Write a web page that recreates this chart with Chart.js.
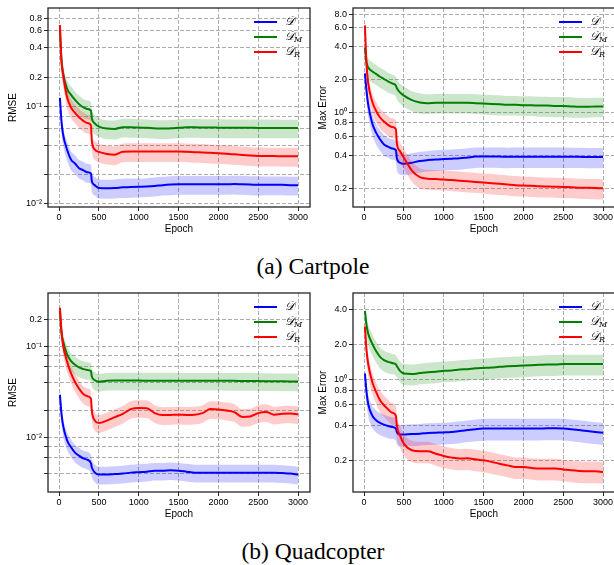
<!DOCTYPE html>
<html>
<head>
<meta charset="utf-8">
<script src="https://cdn.jsdelivr.net/npm/chart.js@4.4.0/dist/chart.umd.min.js"></script>
<style>
html, body { margin: 0; padding: 0; background: #fff; overflow: hidden; width: 614px; height: 565px; }
.panel { position: absolute; width: 312px; height: 236px; }
.caption { position: absolute; left: 0; width: 626px; text-align: center; font-family: "Liberation Serif", "Times New Roman", serif; font-size: 23.5px; line-height: 23.5px; color: #000; }
</style>
</head>
<body>
<div class="panel" style="left:0;top:0"><canvas id="cartRmse" width="312" height="236"></canvas></div>
<div class="panel" style="left:305px;top:0"><canvas id="cartMax" width="312" height="236"></canvas></div>
<div class="caption" style="top:255px">(a) Cartpole</div>
<div class="panel" style="left:0;top:285px"><canvas id="quadRmse" width="312" height="236"></canvas></div>
<div class="panel" style="left:305px;top:285px"><canvas id="quadMax" width="312" height="236"></canvas></div>
<div class="caption" style="top:540px">(b) Quadcopter</div>
<script>
const epochs = [10, 30, 50, 100, 150, 200, 250, 300, 350, 400,
    410, 450, 500, 600, 700, 800, 900, 1000, 1100, 1200,
    1300, 1400, 1500, 1600, 1700, 1800, 1900, 2000, 2100, 2200,
    2300, 2400, 2500, 2600, 2700, 2800, 2900, 3000];

// Cartpole - RMSE
const cartRmseD = [0.123, 0.070, 0.0515, 0.036, 0.0285, 0.026, 0.0233, 0.0223, 0.0212, 0.0206,
    0.0172, 0.0155, 0.0146, 0.0145, 0.0146, 0.0148, 0.0149, 0.015, 0.0151, 0.0153,
    0.0156, 0.0158, 0.0159, 0.0159, 0.0159, 0.0159, 0.0159, 0.0159, 0.0159, 0.016,
    0.0159, 0.0158, 0.0157, 0.0157, 0.0157, 0.0157, 0.0156, 0.0156];
const cartRmseDStd = [0.027, 0.016, 0.011, 0.0079, 0.0063, 0.0057, 0.0051, 0.0049, 0.0047, 0.0045,
    0.0038, 0.0034, 0.0032, 0.0032, 0.0032, 0.0033, 0.0033, 0.0033, 0.0033, 0.0034,
    0.0034, 0.0035, 0.0035, 0.0035, 0.0035, 0.0035, 0.0035, 0.0035, 0.0035, 0.0035,
    0.0035, 0.0035, 0.0035, 0.0034, 0.0034, 0.0034, 0.0034, 0.0034];
const cartRmseM = [0.62, 0.30, 0.22, 0.152, 0.132, 0.117, 0.106, 0.0985, 0.0946, 0.091,
    0.0765, 0.0669, 0.0623, 0.0594, 0.0590, 0.0615, 0.0612, 0.061, 0.0605, 0.0598,
    0.0594, 0.0598, 0.0605, 0.0612, 0.0612, 0.061, 0.061, 0.0608, 0.0606, 0.0606,
    0.0605, 0.0605, 0.0604, 0.0604, 0.0604, 0.0603, 0.0603, 0.0603];
const cartRmseMStd = [0.13, 0.065, 0.048, 0.033, 0.029, 0.026, 0.023, 0.022, 0.021, 0.020,
    0.017, 0.015, 0.0135, 0.013, 0.013, 0.0133, 0.0133, 0.0132, 0.0132, 0.013,
    0.013, 0.013, 0.0132, 0.0133, 0.0133, 0.0133, 0.0133, 0.0132, 0.0132, 0.0132,
    0.0132, 0.0132, 0.0132, 0.0131, 0.0131, 0.0131, 0.0131, 0.0131];
const cartRmseR = [0.69, 0.29, 0.213, 0.125, 0.098, 0.086, 0.0777, 0.0718, 0.0679, 0.0643,
    0.045, 0.0361, 0.0342, 0.0326, 0.0321, 0.0343, 0.0345, 0.0345, 0.0345, 0.0345,
    0.0345, 0.0345, 0.0345, 0.0343, 0.034, 0.0338, 0.0335, 0.0332, 0.0328, 0.0323,
    0.0318, 0.0314, 0.0311, 0.031, 0.031, 0.0309, 0.0309, 0.0309];
const cartRmseRStd = [0.15, 0.064, 0.047, 0.028, 0.022, 0.019, 0.017, 0.016, 0.015, 0.014,
    0.0099, 0.0079, 0.0075, 0.0072, 0.0071, 0.0075, 0.0076, 0.0076, 0.0076, 0.0076,
    0.0076, 0.0076, 0.0076, 0.0075, 0.0075, 0.0074, 0.0074, 0.0073, 0.0072, 0.0071,
    0.007, 0.0069, 0.0068, 0.0068, 0.0068, 0.0068, 0.0068, 0.0068];

// Cartpole - Max Error
const cartMaxD = [2.28, 1.58, 1.19, 0.80, 0.648, 0.562, 0.505, 0.481, 0.464, 0.445,
    0.38, 0.342, 0.335, 0.343, 0.355, 0.362, 0.367, 0.37, 0.373, 0.376,
    0.383, 0.39, 0.391, 0.391, 0.39, 0.388, 0.389, 0.389, 0.389, 0.389,
    0.389, 0.389, 0.389, 0.388, 0.388, 0.387, 0.387, 0.386];
const cartMaxDStd = [0.48, 0.34, 0.26, 0.17, 0.14, 0.12, 0.11, 0.10, 0.10, 0.095,
    0.083, 0.075, 0.073, 0.075, 0.077, 0.078, 0.079, 0.08, 0.08, 0.081,
    0.082, 0.083, 0.083, 0.083, 0.083, 0.083, 0.083, 0.083, 0.083, 0.083,
    0.083, 0.083, 0.083, 0.082, 0.082, 0.082, 0.082, 0.082];
const cartMaxM = [3.9, 2.88, 2.59, 2.38, 2.25, 2.12, 2.02, 1.92, 1.84, 1.75,
    1.67, 1.52, 1.42, 1.29, 1.23, 1.21, 1.22, 1.22, 1.22, 1.22,
    1.22, 1.21, 1.20, 1.19, 1.18, 1.17, 1.17, 1.16, 1.16, 1.15,
    1.15, 1.14, 1.14, 1.13, 1.12, 1.12, 1.13, 1.13];
const cartMaxMStd = [0.8, 0.6, 0.55, 0.5, 0.47, 0.44, 0.42, 0.40, 0.38, 0.36,
    0.35, 0.32, 0.30, 0.27, 0.26, 0.25, 0.25, 0.25, 0.25, 0.25,
    0.25, 0.25, 0.25, 0.25, 0.25, 0.24, 0.24, 0.24, 0.24, 0.24,
    0.24, 0.24, 0.24, 0.24, 0.23, 0.23, 0.23, 0.23];
const cartMaxR = [6.3, 2.78, 1.88, 1.27, 1.03, 0.893, 0.82, 0.764, 0.73, 0.696,
    0.524, 0.438, 0.38, 0.29, 0.252, 0.244, 0.242, 0.24, 0.237, 0.234,
    0.231, 0.228, 0.225, 0.222, 0.219, 0.216, 0.213, 0.211, 0.21, 0.208,
    0.207, 0.206, 0.205, 0.204, 0.202, 0.201, 0.200, 0.199];
const cartMaxRStd = [1.3, 0.6, 0.4, 0.27, 0.22, 0.19, 0.17, 0.16, 0.15, 0.145,
    0.11, 0.092, 0.08, 0.061, 0.053, 0.051, 0.051, 0.05, 0.05, 0.049,
    0.049, 0.048, 0.047, 0.047, 0.046, 0.045, 0.045, 0.044, 0.044, 0.044,
    0.043, 0.043, 0.043, 0.043, 0.042, 0.042, 0.042, 0.042];

// Quadcopter - RMSE
const quadRmseD = [0.0295, 0.0182, 0.0135, 0.0093, 0.0078, 0.0068, 0.0063, 0.0059, 0.0057, 0.0052,
    0.0047, 0.0041, 0.0039, 0.0039, 0.00395, 0.004, 0.0041, 0.00415, 0.0042, 0.0043,
    0.0043, 0.00435, 0.0043, 0.0042, 0.0041, 0.0041, 0.0041, 0.0041, 0.0041, 0.0041,
    0.0041, 0.0041, 0.0041, 0.0041, 0.0041, 0.00405, 0.004, 0.0039];
const quadRmseDStd = [0.0065, 0.004, 0.003, 0.002, 0.0017, 0.0015, 0.0014, 0.0013, 0.00125, 0.00115,
    0.001, 0.0009, 0.00086, 0.00086, 0.00087, 0.00088, 0.0009, 0.00091, 0.00092, 0.00094,
    0.00094, 0.00095, 0.00094, 0.00092, 0.0009, 0.0009, 0.0009, 0.0009, 0.0009, 0.0009,
    0.0009, 0.0009, 0.0009, 0.0009, 0.0009, 0.00089, 0.00088, 0.00086];
const quadRmseM = [0.25, 0.14, 0.114, 0.082, 0.069, 0.063, 0.059, 0.0567, 0.0552, 0.0537,
    0.047, 0.0425, 0.041, 0.042, 0.0422, 0.0422, 0.0422, 0.0422, 0.0421, 0.0421,
    0.0421, 0.0421, 0.042, 0.042, 0.042, 0.042, 0.042, 0.042, 0.0419, 0.0419,
    0.0418, 0.0418, 0.0417, 0.0416, 0.0415, 0.0414, 0.0413, 0.0412];
const quadRmseMStd = [0.055, 0.031, 0.025, 0.018, 0.015, 0.014, 0.013, 0.0125, 0.012, 0.012,
    0.0103, 0.0094, 0.009, 0.0092, 0.0093, 0.0093, 0.0093, 0.0093, 0.0093, 0.0093,
    0.0093, 0.0093, 0.0092, 0.0092, 0.0092, 0.0092, 0.0092, 0.0092, 0.0092, 0.0092,
    0.0092, 0.0092, 0.0092, 0.0092, 0.0091, 0.0091, 0.0091, 0.0091];
const quadRmseR = [0.267, 0.147, 0.104, 0.068, 0.0506, 0.0408, 0.0344, 0.0303, 0.0285, 0.0267,
    0.0198, 0.0153, 0.0144, 0.0153, 0.0167, 0.0182, 0.0205, 0.0211, 0.021, 0.0185,
    0.0176, 0.0177, 0.0178, 0.0177, 0.0178, 0.0185, 0.0205, 0.0203, 0.0198, 0.019,
    0.0168, 0.017, 0.0185, 0.019, 0.0178, 0.0182, 0.0183, 0.018];
const quadRmseRStd = [0.059, 0.032, 0.023, 0.015, 0.011, 0.009, 0.0076, 0.0067, 0.0063, 0.0059,
    0.0044, 0.0034, 0.0032, 0.0034, 0.0037, 0.004, 0.0045, 0.0046, 0.0046, 0.0041,
    0.0039, 0.0039, 0.0039, 0.0039, 0.0039, 0.0041, 0.0045, 0.0045, 0.0044, 0.0042,
    0.0037, 0.0037, 0.0041, 0.0042, 0.0039, 0.004, 0.004, 0.004];

// Quadcopter - Max Error
const quadMaxD = [1.12, 0.777, 0.616, 0.488, 0.442, 0.419, 0.405, 0.394, 0.387, 0.374,
    0.35, 0.332, 0.333, 0.336, 0.338, 0.343, 0.345, 0.347, 0.35, 0.356,
    0.363, 0.37, 0.374, 0.375, 0.375, 0.375, 0.375, 0.375, 0.375, 0.375,
    0.376, 0.376, 0.375, 0.37, 0.363, 0.356, 0.35, 0.345];
const quadMaxDStd = [0.24, 0.17, 0.13, 0.105, 0.095, 0.09, 0.087, 0.085, 0.083, 0.08,
    0.075, 0.071, 0.071, 0.072, 0.072, 0.073, 0.074, 0.074, 0.075, 0.076,
    0.077, 0.079, 0.08, 0.08, 0.08, 0.08, 0.08, 0.08, 0.08, 0.08,
    0.08, 0.08, 0.08, 0.079, 0.078, 0.076, 0.075, 0.074];
const quadMaxM = [3.88, 2.94, 2.49, 2.04, 1.75, 1.56, 1.46, 1.41, 1.38, 1.34,
    1.30, 1.18, 1.12, 1.11, 1.13, 1.15, 1.16, 1.18, 1.19, 1.21,
    1.22, 1.24, 1.25, 1.26, 1.28, 1.29, 1.30, 1.31, 1.32, 1.33,
    1.34, 1.34, 1.35, 1.35, 1.35, 1.35, 1.35, 1.35];
const quadMaxMStd = [0.8, 0.6, 0.51, 0.42, 0.36, 0.32, 0.3, 0.29, 0.28, 0.27,
    0.26, 0.24, 0.23, 0.23, 0.23, 0.235, 0.24, 0.24, 0.245, 0.25,
    0.25, 0.255, 0.26, 0.26, 0.265, 0.265, 0.27, 0.27, 0.27, 0.27,
    0.275, 0.275, 0.275, 0.275, 0.275, 0.275, 0.275, 0.275];
const quadMaxR = [2.84, 1.78, 1.37, 0.96, 0.777, 0.658, 0.595, 0.55, 0.514, 0.482,
    0.40, 0.327, 0.277, 0.243, 0.238, 0.238, 0.227, 0.217, 0.21, 0.206,
    0.207, 0.203, 0.199, 0.193, 0.186, 0.18, 0.174, 0.174, 0.171, 0.169,
    0.169, 0.169, 0.166, 0.163, 0.161, 0.16, 0.16, 0.158];
const quadMaxRStd = [0.6, 0.37, 0.29, 0.2, 0.16, 0.14, 0.125, 0.115, 0.108, 0.1,
    0.084, 0.069, 0.058, 0.051, 0.05, 0.05, 0.048, 0.046, 0.044, 0.043,
    0.043, 0.043, 0.042, 0.041, 0.039, 0.038, 0.037, 0.037, 0.036, 0.036,
    0.036, 0.036, 0.035, 0.034, 0.034, 0.034, 0.034, 0.033];

// ticks
const xTicks = [0, 500, 1000, 1500, 2000, 2500, 3000];
const cartRmseTicks = [0.01, 0.02, 0.04, 0.06, 0.08, 0.1, 0.2, 0.4, 0.6, 0.8];
const cartRmseLabels = ['10⁻²', '', '', '', '', '10⁻¹', '0.2', '0.4', '0.6', '0.8'];
const cartMaxTicks = [0.2, 0.4, 0.6, 0.8, 1, 2, 4, 6, 8];
const cartMaxLabels = ['0.2', '0.4', '0.6', '0.8', '10⁰', '2.0', '4.0', '6.0', '8.0'];
const quadRmseTicks = [0.004, 0.006, 0.008, 0.01, 0.02, 0.04, 0.06, 0.08, 0.1, 0.2];
const quadRmseLabels = ['', '', '', '10⁻²', '', '', '', '', '10⁻¹', '0.2'];
const quadMaxTicks = [0.2, 0.4, 0.6, 0.8, 1, 2, 4];
const quadMaxLabels = ['0.2', '0.4', '0.6', '0.8', '10⁰', '2.0', '4.0'];

const legendNames = [['𝒟', ''], ['𝒟', 'M'], ['𝒟', 'R']];
const lineColors = ['#0000ff', '#008000', '#ff0000'];
const bandColors = ['rgba(0,0,255,0.2)', 'rgba(0,128,0,0.2)', 'rgba(255,0,0,0.2)'];

const sansFont = '"Liberation Sans", Arial, sans-serif';

function buildDatasets(means, stds) {
    const layers = [];
    means.forEach((m, k) => {
        const lo = epochs.map((e, i) => ({ x: e, y: m[i] - stds[k][i] }));
        const hi = epochs.map((e, i) => ({ x: e, y: m[i] + stds[k][i] }));
        const mid = epochs.map((e, i) => ({ x: e, y: m[i] }));
        layers.push({ data: lo, borderWidth: 0, borderColor: 'rgba(0,0,0,0)', pointRadius: 0, fill: false, cubicInterpolationMode: 'monotone' });
        layers.push({ data: hi, borderWidth: 0, borderColor: 'rgba(0,0,0,0)', pointRadius: 0, fill: '+1', backgroundColor: bandColors[k], cubicInterpolationMode: 'monotone' });
        layers.push({ data: mid, borderColor: lineColors[k], borderWidth: 2, pointRadius: 0, fill: false, cubicInterpolationMode: 'monotone' });
    });
    // chart.js paints the first dataset last, so flip to get D under D_M under D_R
    return layers.reverse();
}

const framePlugin = {
    id: 'frameAndLegend',
    afterDatasetsDraw(chart) {
        const { ctx, chartArea: a } = chart;
        ctx.save();
        ctx.strokeStyle = '#262626';
        ctx.lineWidth = 1.3;
        ctx.strokeRect(a.left, a.top, a.right - a.left, a.bottom - a.top);
        ctx.restore();
    },
    afterDraw(chart) {
        const { ctx, chartArea: a } = chart;
        ctx.save();
        legendNames.forEach((name, k) => {
            const y = a.top + 14 + k * 15;
            ctx.strokeStyle = lineColors[k];
            ctx.lineWidth = 2;
            ctx.beginPath();
            ctx.moveTo(a.right - 56, y);
            ctx.lineTo(a.right - 33, y);
            ctx.stroke();
            ctx.fillStyle = '#000';
            ctx.textBaseline = 'middle';
            ctx.font = 'italic 12px "DejaVu Serif", serif';
            ctx.fillText(name[0], a.right - 25, y);
            if (name[1]) {
                const w = ctx.measureText(name[0]).width;
                ctx.font = 'italic 8px "DejaVu Serif", serif';
                ctx.fillText(name[1], a.right - 25 + w - 1, y + 3);
            }
        });
        ctx.restore();
    }
};

function makeChart(id, yTitle, titlePad, yMin, yMax, yTicks, yLabels, means, stds) {
    const gridColor = 'rgba(160,160,160,0.85)';
    const config = {
        type: 'line',
        data: { datasets: buildDatasets(means, stds) },
        options: {
            responsive: false,
            animation: false,
            layout: { padding: { top: 8, right: 2, left: 0, bottom: 0 } },
            plugins: { legend: { display: false }, tooltip: { enabled: false } },
            scales: {
                x: {
                    type: 'linear',
                    min: -139.5,
                    max: 3149.5,
                    afterBuildTicks: s => { s.ticks = xTicks.map(v => ({ value: v })); },
                    afterFit: s => { s.height = 29; },
                    grid: { color: gridColor, lineWidth: 1, drawTicks: true, tickLength: 4, tickColor: '#262626', tickBorderDash: [] },
                    border: { display: false, dash: [4, 2] },
                    ticks: {
                        color: '#000', font: { family: sansFont, size: 9 }, padding: 1, maxRotation: 0, autoSkip: false,
                        callback: (value) => String(value)
                    },
                    title: { display: true, text: 'Epoch', color: '#000', font: { family: sansFont, size: 10 }, padding: { top: 0, bottom: 1 } }
                },
                y: {
                    type: 'logarithmic',
                    min: yMin,
                    max: yMax,
                    afterBuildTicks: s => { s.ticks = yTicks.map(v => ({ value: v })); },
                    afterFit: s => { s.width = 48; },
                    grid: { color: gridColor, lineWidth: 1, drawTicks: true, tickLength: 4, tickColor: '#262626', tickBorderDash: [] },
                    border: { display: false, dash: [4, 2] },
                    ticks: {
                        color: '#000', font: { family: sansFont, size: 9 }, padding: 2, autoSkip: false,
                        callback: (value) => yLabels[yTicks.indexOf(value)] ?? ''
                    },
                    title: { display: true, text: yTitle, color: '#000', font: { family: sansFont, size: 10 }, padding: { top: titlePad, bottom: 0 } }
                }
            }
        },
        plugins: [framePlugin]
    };
    return new Chart(document.getElementById(id), config);
}

makeChart('cartRmse', 'RMSE', 7, 0.0093, 1.03, cartRmseTicks, cartRmseLabels,
    [cartRmseD, cartRmseM, cartRmseR], [cartRmseDStd, cartRmseMStd, cartRmseRStd]);
makeChart('cartMax', 'Max Error', 12, 0.134, 9.1, cartMaxTicks, cartMaxLabels,
    [cartMaxD, cartMaxM, cartMaxR], [cartMaxDStd, cartMaxMStd, cartMaxRStd]);
makeChart('quadRmse', 'RMSE', 7, 0.00251, 0.388, quadRmseTicks, quadRmseLabels,
    [quadRmseD, quadRmseM, quadRmseR], [quadRmseDStd, quadRmseMStd, quadRmseRStd]);
makeChart('quadMax', 'Max Error', 12, 0.106, 5.55, quadMaxTicks, quadMaxLabels,
    [quadMaxD, quadMaxM, quadMaxR], [quadMaxDStd, quadMaxMStd, quadMaxRStd]);
</script>
</body>
</html>
